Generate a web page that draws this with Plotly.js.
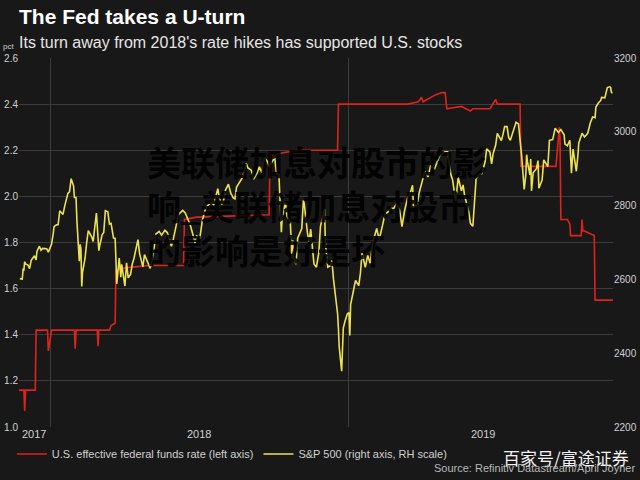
<!DOCTYPE html>
<html>
<head>
<meta charset="utf-8">
<script src="https://cdn.plot.ly/plotly-3.0.1.min.js"></script>
<style>
  html, body { margin: 0; padding: 0; background: #181818; }
  #chart { width: 640px; height: 480px; }
</style>
</head>
<body>
<div id="chart"></div>
<script>
// effective fed funds rate, pct (left axis)
var effrDates = [
  '2017-11-23','2017-11-29','2017-11-30','2017-12-01','2017-12-13','2017-12-14',
  '2017-12-28','2017-12-29','2018-01-02','2018-01-30','2018-01-31','2018-02-01',
  '2018-02-27','2018-02-28','2018-03-01','2018-03-14','2018-03-16','2018-03-21',
  '2018-03-22','2018-04-02','2018-05-01','2018-06-13','2018-06-14','2018-06-29',
  '2018-09-26','2018-09-27','2018-11-01','2018-12-19','2018-12-20','2019-03-15',
  '2019-03-28','2019-04-01','2019-04-03','2019-04-18','2019-04-26','2019-04-30',
  '2019-05-02','2019-05-20','2019-05-31','2019-06-03','2019-06-24','2019-07-01',
  '2019-07-03','2019-07-31','2019-08-01','2019-09-13','2019-09-16','2019-09-17',
  '2019-09-18','2019-09-19','2019-09-27','2019-09-30','2019-10-01','2019-10-02',
  '2019-10-14','2019-10-15','2019-10-16','2019-10-18','2019-10-30','2019-10-31',
  '2019-11-22'
];
var effrValues = [
  1.16, 1.16, 1.07, 1.16, 1.16, 1.42,
  1.42, 1.33, 1.42, 1.42, 1.34, 1.42,
  1.42, 1.35, 1.42, 1.42, 1.44, 1.45,
  1.68, 1.69, 1.70, 1.70, 1.90, 1.91,
  1.92, 2.18, 2.20, 2.20, 2.40, 2.40,
  2.41, 2.43, 2.41, 2.44, 2.45, 2.45,
  2.38, 2.39, 2.37, 2.38, 2.38, 2.42,
  2.40, 2.40, 2.13, 2.13, 2.25, 2.30,
  2.25, 1.90, 1.90, 1.88, 1.83, 1.83,
  1.83, 1.90, 1.85, 1.85, 1.83, 1.55,
  1.55
];

// S&P 500 index (right axis)
var spxDates = [
  '2017-11-24','2017-11-27','2017-11-28','2017-11-29','2017-11-30','2017-12-01','2017-12-04','2017-12-06',
  '2017-12-08','2017-12-12','2017-12-14','2017-12-15','2017-12-18','2017-12-20','2017-12-22','2017-12-27',
  '2017-12-29','2018-01-02','2018-01-04','2018-01-05','2018-01-08','2018-01-10','2018-01-12','2018-01-16',
  '2018-01-18','2018-01-22','2018-01-24','2018-01-26','2018-01-29','2018-01-30','2018-02-01','2018-02-02',
  '2018-02-05','2018-02-06','2018-02-07','2018-02-08','2018-02-09','2018-02-12','2018-02-14','2018-02-16',
  '2018-02-20','2018-02-22','2018-02-26','2018-02-28','2018-03-01','2018-03-02','2018-03-05','2018-03-07',
  '2018-03-09','2018-03-12','2018-03-14','2018-03-16','2018-03-19','2018-03-21','2018-03-22','2018-03-23',
  '2018-03-26','2018-03-28','2018-03-29','2018-04-02','2018-04-04','2018-04-06','2018-04-09','2018-04-11',
  '2018-04-13','2018-04-17','2018-04-18','2018-04-20','2018-04-24','2018-04-26','2018-04-30','2018-05-03',
  '2018-05-07','2018-05-10','2018-05-14','2018-05-17','2018-05-21','2018-05-24','2018-05-29','2018-05-31',
  '2018-06-04','2018-06-06','2018-06-08','2018-06-12','2018-06-15','2018-06-19','2018-06-21','2018-06-25',
  '2018-06-27','2018-06-29','2018-07-03','2018-07-06','2018-07-10','2018-07-13','2018-07-17','2018-07-20',
  '2018-07-25','2018-07-27','2018-07-30','2018-08-01','2018-08-03','2018-08-07','2018-08-10','2018-08-13',
  '2018-08-15','2018-08-17','2018-08-21','2018-08-24','2018-08-27','2018-08-29','2018-08-31','2018-09-04',
  '2018-09-07','2018-09-11','2018-09-14','2018-09-17','2018-09-20','2018-09-24','2018-09-26','2018-09-28',
  '2018-10-01','2018-10-03','2018-10-05','2018-10-08','2018-10-10','2018-10-11','2018-10-12','2018-10-16',
  '2018-10-18','2018-10-22','2018-10-24','2018-10-25','2018-10-26','2018-10-29','2018-10-31','2018-11-02',
  '2018-11-05','2018-11-07','2018-11-08','2018-11-12','2018-11-14','2018-11-16','2018-11-20','2018-11-23',
  '2018-11-26','2018-11-28','2018-11-30','2018-12-03','2018-12-04','2018-12-07','2018-12-10','2018-12-12',
  '2018-12-14','2018-12-17','2018-12-19','2018-12-20','2018-12-21','2018-12-24','2018-12-26','2018-12-28',
  '2018-12-31','2019-01-02','2019-01-03','2019-01-04','2019-01-08','2019-01-10','2019-01-14','2019-01-16',
  '2019-01-18','2019-01-22','2019-01-25','2019-01-28','2019-01-30','2019-02-01','2019-02-05','2019-02-08',
  '2019-02-12','2019-02-15','2019-02-20','2019-02-22','2019-02-26','2019-03-01','2019-03-05','2019-03-08',
  '2019-03-11','2019-03-15','2019-03-18','2019-03-21','2019-03-22','2019-03-25','2019-03-27','2019-03-29',
  '2019-04-02','2019-04-05','2019-04-09','2019-04-12','2019-04-17','2019-04-23','2019-04-26','2019-04-30',
  '2019-05-03','2019-05-07','2019-05-09','2019-05-13','2019-05-16','2019-05-20','2019-05-22','2019-05-24',
  '2019-05-29','2019-05-31','2019-06-03','2019-06-05','2019-06-07','2019-06-11','2019-06-14','2019-06-18',
  '2019-06-20','2019-06-24','2019-06-26','2019-06-28','2019-07-01','2019-07-03','2019-07-08','2019-07-10',
  '2019-07-12','2019-07-15','2019-07-17','2019-07-19','2019-07-23','2019-07-26','2019-07-29','2019-07-31',
  '2019-08-01','2019-08-02','2019-08-05','2019-08-07','2019-08-08','2019-08-09','2019-08-12','2019-08-13',
  '2019-08-14','2019-08-16','2019-08-20','2019-08-22','2019-08-23','2019-08-27','2019-08-29','2019-09-03',
  '2019-09-05','2019-09-09','2019-09-12','2019-09-16','2019-09-19','2019-09-23','2019-09-24','2019-09-27',
  '2019-09-30','2019-10-02','2019-10-04','2019-10-08','2019-10-10','2019-10-11','2019-10-15','2019-10-18',
  '2019-10-22','2019-10-25','2019-10-28','2019-10-31','2019-11-01','2019-11-04','2019-11-07','2019-11-08',
  '2019-11-12','2019-11-15','2019-11-18','2019-11-19','2019-11-20','2019-11-21'
];
var spxValues = [
  2602, 2601, 2627, 2626, 2648, 2642, 2639, 2629,
  2652, 2664, 2653, 2676, 2690, 2679, 2684, 2683,
  2674, 2696, 2724, 2743, 2748, 2748, 2786, 2776,
  2798, 2833, 2837, 2873, 2853, 2822, 2822, 2762,
  2649, 2695, 2682, 2581, 2620, 2656, 2698, 2732,
  2716, 2703, 2780, 2714, 2678, 2691, 2721, 2727,
  2786, 2783, 2750, 2752, 2712, 2711, 2644, 2588,
  2658, 2606, 2641, 2582, 2645, 2604, 2614, 2642,
  2656, 2707, 2708, 2670, 2634, 2667, 2648, 2630,
  2672, 2723, 2730, 2720, 2733, 2727, 2690, 2705,
  2747, 2772, 2779, 2787, 2780, 2762, 2749, 2717,
  2699, 2718, 2713, 2760, 2793, 2801, 2809, 2802,
  2846, 2819, 2803, 2813, 2840, 2858, 2833, 2821,
  2818, 2850, 2863, 2875, 2897, 2914, 2902, 2896,
  2872, 2887, 2905, 2889, 2931, 2919, 2906, 2914,
  2924, 2926, 2886, 2884, 2786, 2728, 2767, 2810,
  2769, 2756, 2656, 2706, 2659, 2641, 2712, 2723,
  2738, 2814, 2806, 2726, 2702, 2736, 2642, 2633,
  2673, 2744, 2760, 2790, 2700, 2633, 2637, 2651,
  2600, 2546, 2507, 2467, 2417, 2351, 2468, 2486,
  2507, 2510, 2448, 2532, 2575, 2597, 2583, 2617,
  2671, 2633, 2665, 2644, 2682, 2707, 2738, 2708,
  2745, 2776, 2785, 2793, 2793, 2804, 2789, 2743,
  2784, 2822, 2833, 2855, 2801, 2798, 2805, 2834,
  2867, 2893, 2878, 2907, 2900, 2934, 2940, 2946,
  2946, 2884, 2871, 2812, 2876, 2840, 2856, 2826,
  2783, 2752, 2744, 2826, 2873, 2885, 2887, 2918,
  2954, 2945, 2913, 2942, 2964, 2996, 2976, 2993,
  3014, 3014, 2984, 2977, 3005, 3026, 3021, 2980,
  2954, 2932, 2844, 2884, 2938, 2919, 2883, 2926,
  2840, 2889, 2900, 2922, 2847, 2869, 2924, 2906,
  2977, 2979, 3010, 2998, 3006, 2992, 2967, 2962,
  2977, 2888, 2953, 2893, 2938, 2970, 2996, 2986,
  2996, 3023, 3040, 3038, 3067, 3078, 3085, 3093,
  3092, 3120, 3122, 3120, 3108, 3104
];

// year labels sit in the middle of each visible year span
var yearLabels = ['2017', '2018', '2019'];
var yearLabelDates = ['2017-12-12', '2018-07-02', '2019-06-15'];
var yearLines = ['2018-01-01', '2019-01-01'];

var txt = '#d0d0d0';
var narrow = 'Liberation Sans Narrow, Arial Narrow, Liberation Sans, Arial, sans-serif';

var fedTrace = {
  x: effrDates, y: effrValues,
  name: 'U.S. effective federal funds rate (left axis)',
  type: 'scatter', mode: 'lines',
  line: { color: '#e0221c', width: 1.6 },
  yaxis: 'y'
};
var spxTrace = {
  x: spxDates, y: spxValues,
  name: 'S&P 500 (right axis, RH scale)',
  type: 'scatter', mode: 'lines',
  line: { color: '#ece250', width: 1.6 },
  yaxis: 'y2'
};

var annotations = yearLabels.map(function (t, i) {
  return {
    x: yearLabelDates[i], xref: 'x', y: -0.04, yref: 'paper',
    text: t, showarrow: false, font: { family: narrow, size: 11, color: txt }
  };
});

annotations.push(
  { x: -0.004, xref: 'paper', xanchor: 'left', y: 1.112, yref: 'paper', yanchor: 'middle',
    text: '<b>The Fed takes a U-turn</b>', showarrow: false,
    font: { family: 'Liberation Sans, Arial, sans-serif', size: 21, color: '#ffffff' } },
  { x: -0.004, xref: 'paper', xanchor: 'left', y: 1.042, yref: 'paper', yanchor: 'middle',
    text: "Its turn away from 2018's rate hikes has supported U.S. stocks", showarrow: false,
    font: { family: 'Liberation Sans, Arial, sans-serif', size: 16, color: '#e6e6e6' } },
  { x: -0.030, xref: 'paper', xanchor: 'left', y: 1.030, yref: 'paper', yanchor: 'middle',
    text: 'pct', showarrow: false, font: { family: narrow, size: 8, color: txt } },
  { x: 0.212, xref: 'paper', xanchor: 'left', y: 0.60, yref: 'paper', yanchor: 'middle',
    align: 'left', showarrow: false,
    text: '美联储加息对股市的影<br>响_美联储加息对股市<br>的影响是好是坏',
    font: { family: 'Noto Sans CJK SC, sans-serif', size: 34, weight: 'bold', color: 'rgba(0,0,0,0.9)' } },
  { x: 1.03, xref: 'paper', xanchor: 'right', y: -0.084, yref: 'paper', yanchor: 'middle',
    text: '百家号/富途证券', showarrow: false,
    font: { family: 'Noto Sans CJK SC, sans-serif', size: 17, color: '#f2f2f2' } },
  { x: 1.04, xref: 'paper', xanchor: 'right', y: -0.112, yref: 'paper', yanchor: 'middle',
    text: 'Source: Refinitiv Datastream/April Joyner', showarrow: false,
    font: { family: narrow, size: 11, color: '#b8b8b8' } }
);

var layout = {
  width: 640, height: 480,
  margin: { l: 19, r: 27, t: 58, b: 50 },
  paper_bgcolor: '#181818',
  plot_bgcolor: '#181818',
  font: { family: narrow, color: txt },
  showlegend: true,
  legend: {
    orientation: 'h', x: -0.012, xanchor: 'left', y: -0.073, yanchor: 'middle',
    bgcolor: 'rgba(0,0,0,0)', font: { family: narrow, size: 11, color: txt }
  },
  xaxis: {
    type: 'date', range: ['2017-11-23', '2019-11-22'],
    tickvals: yearLines, showticklabels: false, ticks: '',
    showgrid: true, gridcolor: '#3c3c3c', gridwidth: 1,
    zeroline: false, showline: false, fixedrange: true
  },
  yaxis: {
    range: [1.0, 2.6], dtick: 0.2, tickformat: '.1f',
    showgrid: true, gridcolor: '#3c3c3c', gridwidth: 1, zeroline: false,
    ticks: '', tickfont: { family: narrow, size: 10, color: txt }
  },
  yaxis2: {
    range: [2200, 3200], dtick: 200, overlaying: 'y', side: 'right',
    showgrid: false, zeroline: false, ticks: '',
    tickfont: { family: narrow, size: 10, color: txt }
  },
  annotations: annotations
};

Plotly.newPlot('chart', [fedTrace, spxTrace], layout, { displayModeBar: false, staticPlot: true });
</script>
</body>
</html>
